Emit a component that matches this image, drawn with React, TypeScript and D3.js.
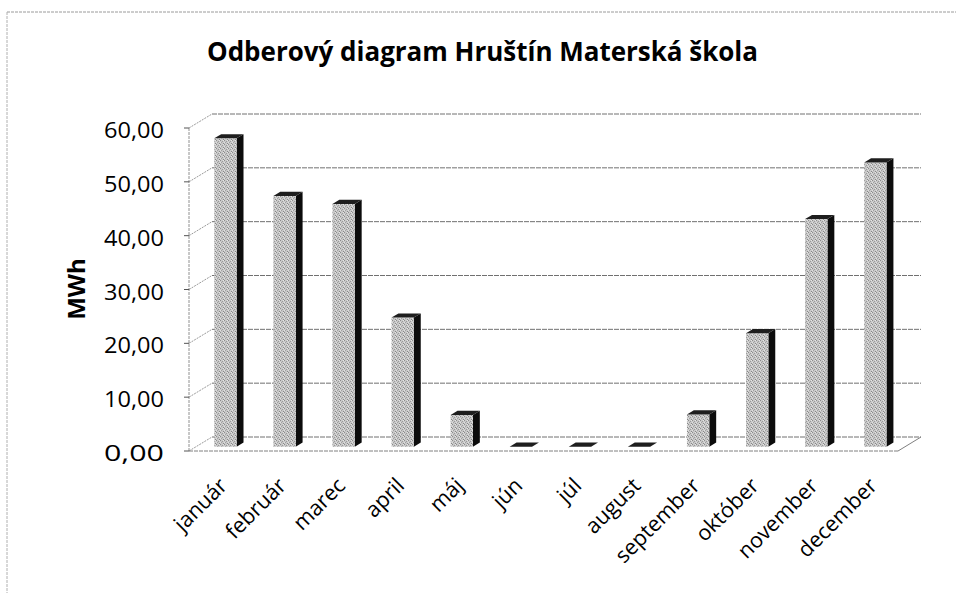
import React from 'react';
import * as d3 from 'd3';

const months = ['január', 'február', 'marec', 'april', 'máj', 'jún', 'júl', 'august', 'september', 'október', 'november', 'december'];
const values = [57.3, 46.6, 45.1, 24.0, 5.9, 0, 0, 0, 6.0, 21.1, 42.3, 52.8];
const yTicks = [0, 10, 20, 30, 40, 50, 60];
const title = 'Odberový diagram Hruštín Materská škola';
const yLabel = 'MWh';

const W = 956, H = 593;
const X0 = 189, X1 = 898, YB = 451, YT = 128;
const DX = 23, DY = -14;
const F0 = 0.3, F1 = 0.6;

export default function App() {
  const x = d3.scaleBand<string>().domain(months).range([X0, X1]).padding(0);
  const y = d3.scaleLinear().domain([0, 60]).range([YB, YT]);
  const barW = x.step() * 0.378;
  const fmt = (v: number) => d3.format('.2f')(v).replace('.', ',');
  const ddx = DX * (F1 - F0), ddy = DY * (F1 - F0);
  const pts = (a: number[][]) => a.map(p => p.join(',')).join(' ');
  const font = "'Open Sans', 'Noto Sans', sans-serif";

  return (
    <svg width={W} height={H} style={{ position: 'absolute', left: 0, top: 0, background: '#fff' }}>
      <defs>
        <pattern id="stip" width={4} height={4} patternUnits="userSpaceOnUse">
          <rect width={4} height={4} fill="#c8c8c8" />
          <rect x={0} y={0} width={1} height={1} fill="#8c8c8c" />
          <rect x={2} y={1} width={1} height={1} fill="#9a9a9a" />
          <rect x={1} y={2} width={1} height={1} fill="#a0a0a0" />
          <rect x={3} y={3} width={1} height={1} fill="#888" />
          <rect x={3} y={0} width={1} height={1} fill="#e6e6e6" />
          <rect x={0} y={2} width={1} height={1} fill="#e0e0e0" />
        </pattern>
      </defs>
      {/* outer border */}
      <line x1={7} y1={12} x2={W} y2={12} stroke="#9a9a9a" strokeDasharray="3 1" />
      <line x1={7} y1={12} x2={7} y2={H} stroke="#b0b0b0" strokeDasharray="3 1" />

      {/* title */}
      <text x={482.5} y={61} textAnchor="middle" fontFamily={font} fontWeight={700} fontSize={26.5}
        textLength={551} lengthAdjust="spacingAndGlyphs" fill="#000">{title}</text>

      {/* back wall gridlines */}
      {yTicks.map(t => (
        <line key={'g' + t} x1={X0 + DX} x2={X1 + DX} y1={y(t) + DY} y2={y(t) + DY}
          stroke="#707070" strokeWidth={1} strokeDasharray="5 1" />
      ))}
      {/* left wall diagonals */}
      {yTicks.map(t => (
        <line key={'d' + t} x1={X0} y1={y(t)} x2={X0 + DX} y2={y(t) + DY} stroke="#9a9a9a" strokeDasharray="2 1" />
      ))}
      {/* axis + ticks */}
      <line x1={X0} x2={X0} y1={y(0)} y2={y(60)} stroke="#909090" strokeDasharray="3 1" />
      {yTicks.map(t => (
        <line key={'t' + t} x1={X0 - 5} x2={X0} y1={y(t)} y2={y(t)} stroke="#555" />
      ))}
      {/* floor */}
      <line x1={X0} x2={X1} y1={y(0)} y2={y(0)} stroke="#808080" strokeDasharray="4 1" />
      <line x1={X1} y1={y(0)} x2={X1 + DX} y2={y(0) + DY} stroke="#808080" />

      {/* bars */}
      {months.map((m, i) => {
        const v = values[i];
        const cx = (x(m) as number) + x.bandwidth() / 2 + DX * F0;
        const yb = y(0) + DY * F0;
        const yt = y(v) + DY * F0;
        const l = cx - barW / 2, r = cx + barW / 2;
        return (
          <g key={m}>
            {v > 0 && (
              <polygon points={pts([[r, yt], [r + ddx, yt + ddy], [r + ddx, yb + ddy], [r, yb]])} fill="#0c0c0c" />
            )}
            {v > 0 && <rect x={l} y={yt} width={barW} height={yb - yt} fill="url(#stip)" />}
            <polygon points={pts([[l, yt], [r, yt], [r + ddx, yt + ddy], [l + ddx, yt + ddy]])} fill="#1e1e1e" />
          </g>
        );
      })}

      {/* y tick labels */}
      {yTicks.map(t => (
        <text key={'l' + t} x={164} y={y(t) + 2} textAnchor="end" dominantBaseline="central"
          fontFamily={font} fontSize={21} textLength={60} lengthAdjust="spacingAndGlyphs" fill="#000">{fmt(t)}</text>
      ))}

      {/* y axis title */}
      <text transform={`translate(85,289) rotate(-90)`} textAnchor="middle" fontFamily={font}
        fontWeight={700} fontSize={24} fill="#000">{yLabel}</text>

      {/* x labels */}
      {months.map(m => {
        const cx = (x(m) as number) + x.bandwidth() / 2 + DX * F0;
        return (
          <text key={'x' + m} transform={`translate(${cx - 3},481) rotate(-45)`} textAnchor="end"
            dominantBaseline="central" fontFamily={font} fontSize={21.5} fill="#000">{m}</text>
        );
      })}
    </svg>
  );
}
